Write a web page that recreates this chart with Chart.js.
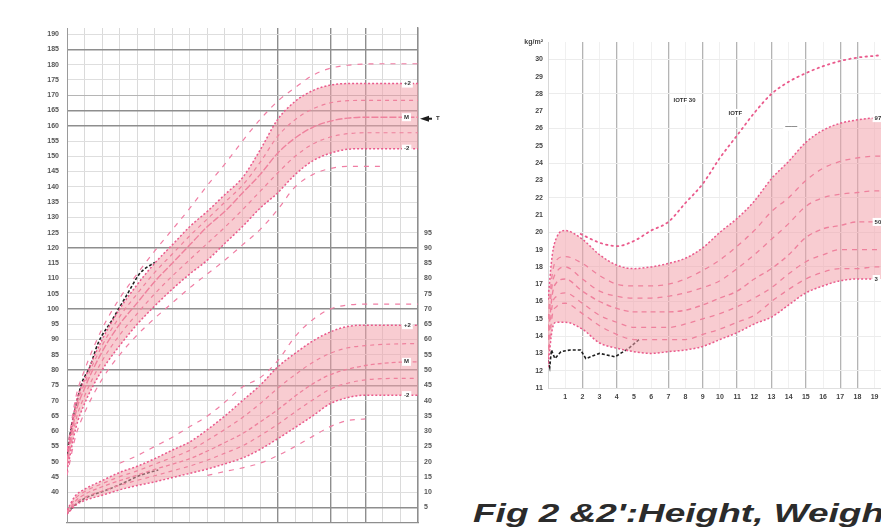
<!DOCTYPE html>
<html><head><meta charset="utf-8">
<script src="https://cdn.jsdelivr.net/npm/chart.js@4.4.1/dist/chart.umd.min.js"></script>
<style>
html,body{margin:0;padding:0;background:#fff;width:881px;height:528px;overflow:hidden;position:relative}
#c1{position:absolute;left:0;top:0}
#c2{position:absolute;left:500px;top:0}
#cap{position:absolute;left:473px;top:501px;font:italic bold 25px "Liberation Sans",Arial,sans-serif;line-height:25px;color:#2b2b2b;white-space:nowrap;transform:scaleX(1.48);transform-origin:0 0}
</style></head><body>
<canvas id="c1" width="460" height="535"></canvas>
<canvas id="c2" width="414" height="410"></canvas>
<div id="cap">Fig 2 &amp;2':Height, Weight and BMI curves</div>
<script>
// ---------- Height / weight chart (left) ----------
const hAges = [0,0.5,1,2,3,4,5,6,7,8,9,10,11,12,13,14,15,16,17,18,19,20];
const hP3  = [53.5,71,80,93.5,103.5,111.5,119,126,133,140.5,147.5,155,162,168,172.5,176.5,178.8,179.8,180.2,180.3,180.3,180.3];
const hP2  = [52,69,77,90,100,108,115,121,127,132,137.5,143,152,162,168,171.5,173.3,173.8,173.8,173.8,173.8,173.8];
const hP1  = [51,67.5,75.5,88,97.5,105,112,118,124,129.5,135,140.5,148,156.5,162,165.5,167.5,168.2,168.3,168.3,168.3,168.3];
const hMed = [50,66,74,86,95,102,109,115,121,127,132,138,144,151,156,159.5,161.5,162.5,162.8,162.8,162.8,162.8];
const hM1  = [48.5,63.5,71.5,83,91.5,98.5,105,110.8,116.2,121.5,126.8,132.5,138.5,144.5,150,154,156.3,157.4,157.7,157.7,157.7,157.7];
const hM2  = [47,61,69,80,88,95,101,106.5,111.5,116,121.5,127,133,138,144,148.5,151,152.3,152.5,152.5,152.5,152.5];
const hM3  = [45.5,58.5,66,77,85,91.5,97,102,107,111.5,116,121,126,132.5,140,144,146,146.7,146.7,146.7,null,null];

const wP3  = [null,null,null,null,19.5,22,25,28,31.5,35,39.5,44.5,47.5,53,61,66.5,70,71.3,71.6,71.6,71.6,71.6];
const wP2  = [4.2,9,11,13.8,16.5,18.5,21,23.8,26.5,30.5,35,40,45,51,55.5,59.5,62.5,64.3,64.7,64.7,64.7,64.7];
const wP1  = [3.8,8.1,10.2,12.8,15.1,17,19.2,21.4,23.7,27,30.6,34.5,39,44,48.5,52.5,55.5,57.3,58,58.4,58.6,58.7];
const wMed = [3.3,7.2,9.3,11.8,13.8,15.6,17.5,19.2,21,23.5,26.3,29.2,33,37,41.5,45.5,48.5,50.3,51.5,52.2,52.6,52.7];
const wM1  = [3.0,6.5,8.3,10.4,12.3,13.9,15.4,17,18.6,20.5,22.8,25.2,28.5,32.2,36.3,40.2,43.8,45.7,46.8,47.2,47.3,47.3];
const wM2  = [2.8,5.8,7.3,9,10.8,12.2,13.4,14.8,16.2,17.6,19.3,21.2,24,27.5,31.2,35,39,41,41.8,41.8,41.8,41.8];
const wM3  = [null,null,null,null,null,null,null,null,null,15.5,16.8,18,19.5,22,25,28.3,31.5,33.5,34,null,null,null];

const patHAges = [0,0.1,0.3,0.5,0.85,1.3,1.77,2.56,3.4,4.16,5.0];
const patH     = [50.6,56,63,68,75.8,81,88.8,96.3,104.5,111.7,115.3];
const patWAges = [0,0.5,1,1.5,2.3,3.2,4.2,5.2];
const patW     = [3.3,6,8,9.2,10.8,13,15.6,17.3];

const ageTicks = [0,1,2,3,4,5,6,7,8,9,10,11,12,13,14,15,16,17,18,19,20];
const ageDark  = [12,15,17];
const hTicks = [30,35,40,45,50,55,60,65,70,75,80,85,90,95,100,105,110,115,120,125,130,135,140,145,150,155,160,165,170,175,180,185,190];
const hDark  = [35,75,80,100,120,160,165,185];
const hMid   = [170];
const wTicks = [5,10,15,20,25,30,35,40,45,50,55,60,65,70,75,80,85,90,95];

// ---------- BMI chart (right) ----------
const bAges = [0,0.25,0.5,1,2,3,4,5,6,7,8,9,10,11,12,13,14,15,16,17,18,19,20,21];
const b97 = [16.1,18.7,19.7,20.1,19.6,18.7,18.1,17.9,18.0,18.2,18.5,19.1,20.0,20.8,21.8,23.1,24.1,25.2,25.9,26.3,26.5,26.6,26.6,26.6];
const b90 = [15.0,17.6,18.4,18.6,18.2,17.5,17.0,16.9,16.9,17.0,17.3,17.8,18.4,19.2,20.1,21.2,22.0,23.0,23.7,24.1,24.3,24.4,24.4,24.4];
const b75 = [14.4,17.0,17.7,18.0,17.3,16.6,16.3,16.2,16.2,16.3,16.5,16.8,17.2,17.9,18.7,19.6,20.5,21.5,22.0,22.2,22.3,22.4,22.4,22.4];
const b50 = [13.8,16.4,17.1,17.3,16.6,16.0,15.6,15.4,15.4,15.4,15.5,15.8,16.2,16.6,17.3,17.9,18.7,19.7,20.2,20.4,20.6,20.6,20.6,20.6];
const b25 = [13.2,15.8,16.3,16.5,15.9,15.2,14.8,14.5,14.5,14.5,14.7,15.0,15.3,15.7,16.2,16.8,17.6,18.3,18.7,19.0,19.0,19.0,19.0,19.0];
const b10 = [12.7,15.2,15.7,15.9,15.3,14.6,14.1,13.8,13.8,13.8,13.8,14.1,14.4,14.8,15.2,16.0,16.7,17.3,17.7,17.9,17.9,18.0,18.0,18.0];
const b3  = [12.2,14.4,14.8,14.8,14.4,13.6,13.3,13.1,13.0,13.1,13.2,13.4,13.8,14.2,14.7,15.1,15.8,16.5,16.9,17.2,17.3,17.3,17.3,17.3];
const iotfAges = [1.9,3,4,5,6,7,8,9,10,11,12,13,14,15,16,17,18,19,20,21];
const iotf30   = [19.9,19.4,19.2,19.5,20.1,20.6,21.7,22.8,24.3,25.6,26.9,28.0,28.7,29.2,29.6,29.9,30.1,30.2,30.3,30.4];
const patBAges = [0,0.1,0.2,0.4,0.75,1.3,1.9,2.2,3.0,3.9,4.7,5.3];
const patB     = [12.6,12.2,13.2,12.7,13.1,13.2,13.2,12.7,13.0,12.8,13.3,13.8];

const bmiAgeTicks = [0,1,2,3,4,5,6,7,8,9,10,11,12,13,14,15,16,17,18,19,20,21];
const bmiAgeDark  = [2,4,7,9,11,13,15,17,18];
const bmiTicks = [11,12,13,14,15,16,17,18,19,20,21,22,23,24,25,26,27,28,29,30,31];

// ---------- helpers ----------
const PINK = '#ea5a8c', PINK2 = '#f07ea4', FILL = 'rgba(243,162,172,0.55)', BLACK = '#1e1e1e';
const pts = (xs, ys) => xs.map((x, i) => ({x, y: ys[i]}));
Chart.defaults.font.family = '"Liberation Sans", Arial, sans-serif';
Chart.defaults.font.size = 7;
Chart.defaults.color = '#555';

function line(xs, ys, axis, dash, color, width, extra) {
  return Object.assign({data: pts(xs, ys), yAxisID: axis, borderColor: color, borderWidth: width,
    borderDash: dash, pointRadius: 0, fill: false, cubicInterpolationMode: 'monotone', spanGaps: false}, extra || {});
}

const notePlugin = {
  id: 'notes',
  afterDatasetsDraw(chart, args, opts) {
    const ctx = chart.ctx;
    for (const n of (opts.items || [])) {
      const ys = chart.scales[n.yAxis || 'y'];
      const px = n.edge ? chart.chartArea.right + n.edge : chart.scales.x.getPixelForValue(n.x);
      const py = ys.getPixelForValue(n.y);
      ctx.save();
      if (n.arrow) {
        ctx.fillStyle = BLACK;
        ctx.beginPath(); ctx.moveTo(px, py); ctx.lineTo(px + 9, py - 3); ctx.lineTo(px + 9, py + 3); ctx.closePath(); ctx.fill();
        ctx.fillRect(px + 8, py - 1, 4, 2);
      }
      if (n.text) {
        ctx.font = 'bold 6px "Liberation Sans", Arial, sans-serif';
        const tx = n.arrow ? px + 16 : px;
        const w = ctx.measureText(n.text).width;
        if (n.box) { ctx.fillStyle = '#fff'; ctx.fillRect(tx - 2, py - 4, w + 4, 8); }
        ctx.fillStyle = '#333'; ctx.textBaseline = 'middle'; ctx.textAlign = 'left';
        ctx.fillText(n.text, tx, py);
      }
      ctx.restore();
    }
  }
};

// ---------- left chart ----------
new Chart(document.getElementById('c1'), {
  type: 'line',
  data: {datasets: [
    line(hAges, hP3, 'y', [5, 6], PINK2, 1.2),
    line(hAges, hM2, 'y', [2, 2], PINK, 1.5),
    line(hAges, hP2, 'y', [2, 2], PINK, 1.5, {fill: {target: 1, above: FILL, below: FILL}}),
    line(hAges, hP1, 'y', [4, 4], PINK, 1.2),
    line(hAges, hMed, 'y', [7, 2], PINK, 1.4),
    line(hAges, hM1, 'y', [4, 4], PINK, 1.2),
    line(hAges, hM3, 'y', [5, 6], PINK2, 1.2),
    line(hAges, wP3, 'w', [5, 6], PINK2, 1.2),
    line(hAges, wM2, 'w', [2, 2], PINK, 1.5),
    line(hAges, wP2, 'w', [2, 2], PINK, 1.5, {fill: {target: 8, above: FILL, below: FILL}}),
    line(hAges, wP1, 'w', [4, 4], PINK, 1.2),
    line(hAges, wMed, 'w', [4, 3], PINK, 1.3),
    line(hAges, wM1, 'w', [4, 4], PINK, 1.2),
    line(hAges, wM3, 'w', [5, 6], PINK2, 1.2),
    line(patHAges, patH, 'y', [3, 2], BLACK, 1.6),
    line(patWAges, patW, 'w', [3, 2], BLACK, 1.6)
  ]},
  options: {
    responsive: false, animation: false, events: [],
    layout: {padding: {top: 28, bottom: 0, left: 0, right: 0}},
    plugins: {legend: {display: false}, tooltip: {enabled: false},
      notes: {items: [
        {x: 19.2, y: 173.8, text: '+2', box: true},
        {x: 19.2, y: 162.8, text: 'M', box: true},
        {x: 19.2, y: 152.5, text: '-2', box: true},
        {x: 19.2, y: 64.7, yAxis: 'w', text: '+2', box: true},
        {x: 19.2, y: 52.7, yAxis: 'w', text: 'M', box: true},
        {x: 19.2, y: 41.8, yAxis: 'w', text: '-2', box: true},
        {edge: 2, y: 162.3, arrow: true, text: 'T'}
      ]}},
    scales: {
      x: {type: 'linear', min: 0, max: 20,
        afterBuildTicks: s => { s.ticks = ageTicks.map(v => ({value: v})); },
        afterFit: s => { s.height = 0; },
        ticks: {display: false},
        grid: {drawTicks: false, color: c => ageDark.includes(c.tick.value) ? '#8e8e8e' : '#dadada',
               lineWidth: c => ageDark.includes(c.tick.value) ? 1.4 : 1},
        border: {color: '#8e8e8e', width: 1.2}},
      y: {type: 'linear', position: 'left', min: 30, max: 192,
        afterBuildTicks: s => { s.ticks = hTicks.map(v => ({value: v})); },
        afterFit: s => { s.width = 67; },
        ticks: {padding: 8, color: '#555', font: {size: 7, weight: 'bold'}, callback: v => v >= 40 ? v : ''},
        grid: {drawTicks: false,
               color: c => hDark.includes(c.tick.value) ? '#8e8e8e' : (hMid.includes(c.tick.value) ? '#b5b5b5' : '#dedede'),
               lineWidth: c => hDark.includes(c.tick.value) ? 1.4 : 1},
        border: {color: '#9a9a9a', width: 1}},
      w: {type: 'linear', position: 'right', min: 0, max: 162,
        afterBuildTicks: s => { s.ticks = wTicks.map(v => ({value: v})); },
        afterFit: s => { s.width = 42; },
        ticks: {padding: 6, color: '#555', font: {size: 7, weight: 'bold'}},
        grid: {display: false, drawTicks: false},
        border: {color: '#8e8e8e', width: 1.4}}
    }
  },
  plugins: [notePlugin]
});

// ---------- right chart ----------
new Chart(document.getElementById('c2'), {
  type: 'line',
  data: {datasets: [
    line(bAges, b3, 'y', [2, 2], PINK, 1.5),
    line(bAges, b97, 'y', [2, 2], PINK, 1.5, {fill: {target: 0, above: FILL, below: FILL}}),
    line(bAges, b90, 'y', [5, 5], PINK, 1.3),
    line(bAges, b75, 'y', [5, 5], PINK, 1.3),
    line(bAges, b50, 'y', [5, 4], PINK, 1.4),
    line(bAges, b25, 'y', [5, 5], PINK, 1.3),
    line(bAges, b10, 'y', [5, 5], PINK, 1.3),
    line(iotfAges, iotf30, 'y', [1.5, 4], PINK, 1.8, {borderCapStyle: 'round'}),
    line(patBAges, patB, 'y', [3, 2], BLACK, 1.6, {cubicInterpolationMode: 'default', tension: 0})
  ]},
  options: {
    responsive: false, animation: false, events: [],
    layout: {padding: {top: 42, bottom: 0, left: 0, right: 0}},
    plugins: {legend: {display: false}, tooltip: {enabled: false},
      notes: {items: [
        {x: 7.3, y: 27.6, text: 'IOTF 30', box: true},
        {x: 10.5, y: 26.9, text: 'IOTF', box: true},
        {x: 13.8, y: 26.1, text: '\u2014\u2014', box: true},
        {x: 19.0, y: 26.6, text: '97', box: true},
        {x: 19.0, y: 20.6, text: '50', box: true},
        {x: 19.0, y: 17.3, text: '3', box: true}
      ]}},
    scales: {
      x: {type: 'linear', min: 0, max: 21,
        afterBuildTicks: s => { s.ticks = bmiAgeTicks.map(v => ({value: v})); },
        afterFit: s => { s.height = 22; },
        ticks: {padding: 5, color: '#444', font: {size: 7, weight: 'bold'}, maxRotation: 0, autoSkip: false,
                callback: v => (v === 0 || v >= 20) ? '' : v},
        grid: {drawTicks: false, color: c => bmiAgeDark.includes(c.tick.value) ? '#b4b4b4' : '#f0f0f0',
               lineWidth: c => bmiAgeDark.includes(c.tick.value) ? 1.3 : 1},
        border: {color: '#e0e0e0', width: 1}},
      y: {type: 'linear', min: 11, max: 31,
        afterBuildTicks: s => { s.ticks = bmiTicks.map(v => ({value: v})); },
        afterFit: s => { s.width = 48; },
        ticks: {padding: 5, color: '#444', font: {size: 7, weight: 'bold'},
                callback: v => v === 31 ? 'kg/m\u00b2' : v},
        grid: {drawTicks: false, color: c => (c.tick.value % 2 === 0) ? '#ececec' : 'rgba(0,0,0,0)'},
        border: {color: '#d8d8d8', width: 1}}
    }
  },
  plugins: [notePlugin]
});
</script>
</body></html>
